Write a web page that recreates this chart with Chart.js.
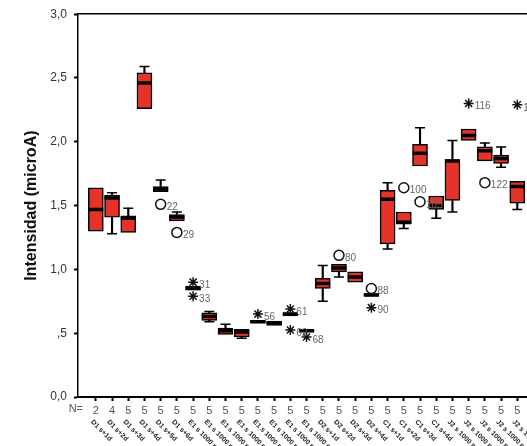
<!DOCTYPE html>
<html>
<head>
<meta charset="utf-8">
<script src="https://cdn.jsdelivr.net/npm/chart.js@4.4.1/dist/chart.umd.min.js"></script>
<style>
html,body{margin:0;padding:0;background:#fff;overflow:hidden}
#wrap{position:relative;width:527px;height:446px}
</style>
</head>
<body>
<div id="wrap"><canvas id="c" width="527" height="446"></canvas></div>
<script>
// Datos (boxplot SPSS)
var categorias = ['D1 s+1d','D1 s+2d','D1 s+3d','D1 s+4d','D1 s+5d','D1 s+6d',
    'E1 s 1000 mV 1','E1 s 1000 mV 2','E1 s 1000 mV 3','E1 s 1000 mV 4','E1 s 1000 mV 5','E1 s 1000 mV 6','E1 s 1000 mV 7','E1 s 1000 mV 8',
    'D2 s+1d','D2 s+2d','D2 s+3d','D2 s+4d',
    'C1 s+1d','C1 s+2d','C1 s+3d','C1 s+4d',
    'J2 s 1000 mV 1','J2 s 1000 mV 2','J2 s 1000 mV 3','J2 s 1000 mV 4','J2 s 1000 mV 5'];
var nCasos   = [2,4,5,5,5,5,5,5,5,5,5,5,5,5,5,5,5,5,5,5,5,5,5,5,5,5,5];
var minimos  = [1.30,1.28,1.29,2.26,1.61,1.38,0.84,0.59,0.49,0.46,0.58,0.56,0.635,0.51,0.75,0.94,0.90,0.79,1.16,1.32,1.81,1.40,1.45,2.01,1.85,1.80,1.47];
var q1       = [1.30,1.41,1.29,2.26,1.61,1.38,0.84,0.60,0.49,0.47,0.58,0.56,0.635,0.51,0.85,0.98,0.90,0.79,1.20,1.355,1.81,1.47,1.54,2.01,1.85,1.83,1.52];
var medianas = [1.47,1.56,1.40,2.46,1.63,1.41,0.85,0.63,0.52,0.51,0.59,0.58,0.65,0.52,0.89,1.01,0.94,0.80,1.55,1.37,1.91,1.50,1.85,2.05,1.93,1.87,1.65];
var q3       = [1.64,1.58,1.42,2.54,1.65,1.43,0.87,0.66,0.54,0.53,0.60,0.595,0.66,0.53,0.93,1.04,0.98,0.81,1.62,1.45,1.98,1.575,1.86,2.10,1.96,1.895,1.69];
var maximos  = [1.64,1.60,1.48,2.59,1.70,1.45,0.87,0.67,0.57,0.53,0.60,0.595,0.66,0.53,1.03,1.04,0.98,0.81,1.68,1.45,2.11,1.575,2.01,2.10,1.99,1.96,1.69];

// casos atipicos (O) y extremos (*)
var outCat  = [4,5,6,6,10,12,12,13,15,17,17,19,20,23,24,26];
var outVal  = [1.51,1.29,0.90,0.79,0.65,0.69,0.525,0.47,1.11,0.85,0.70,1.64,1.53,2.30,1.68,2.29];
var outLab  = ['22','29','31','33','56','61','62','68','80','88','90','100','105','116','122','127'];
var outTipo = ['o','o','*','*','*','*','*','*','o','o','*','o','o','*','o','*'];

var yTicks = [0,0.5,1,1.5,2,2.5,3];
var yTickLabels = ['0,0',',5','1,0','1,5','2,0','2,5','3,0'];

Chart.defaults.font.family = "'Liberation Sans', Arial, sans-serif";

var rojo = '#e5332a';
var cajas = [], meds = [], bigotes = [], topes = [];
for (var i = 0; i < categorias.length; i++) {
    cajas.push({x: i, y: [q1[i], q3[i]]});
    meds.push({x: i, y: medianas[i]});
    if (maximos[i] > q3[i]) { bigotes.push({x: i, y: [q3[i], maximos[i]]}); topes.push({x: i, y: maximos[i]}); }
    if (minimos[i] < q1[i]) { bigotes.push({x: i, y: [minimos[i], q1[i]]}); topes.push({x: i, y: minimos[i]}); }
}
var circulos = [], estrellas = [];
for (var k = 0; k < outCat.length; k++) {
    var p = {x: outCat[k], y: outVal[k], lab: outLab[k]};
    if (outTipo[k] === 'o') circulos.push(p); else estrellas.push(p);
}

function sinPadding(s) { s.paddingLeft = 0; s.paddingRight = 0; }

var etiquetasPlugin = {
    id: 'etiquetas',
    afterDatasetsDraw: function(chart) {
        var ctx = chart.ctx;
        ctx.save();
        ctx.font = "10px 'Liberation Sans', Arial, sans-serif";
        ctx.fillStyle = '#666';
        ctx.textBaseline = 'middle';
        chart.data.datasets.forEach(function(ds, di) {
            if (!ds.conEtiqueta) return;
            var meta = chart.getDatasetMeta(di);
            meta.data.forEach(function(el, j) {
                ctx.fillText(ds.data[j].lab, el.x + 6, el.y + 3);
            });
        });
        ctx.restore();
    },
    afterDraw: function(chart) {
        var ctx = chart.ctx, xs = chart.scales.x;
        ctx.save();
        ctx.fillStyle = '#555';
        ctx.font = "11px 'Liberation Sans', Arial, sans-serif";
        ctx.textAlign = 'right';
        ctx.textBaseline = 'middle';
        ctx.fillText('N=', chart.chartArea.left + 5, xs.top + 12);
        ctx.font = "bold 7px 'Liberation Sans', Arial, sans-serif";
        ctx.fillStyle = '#222';
        ctx.textAlign = 'left';
        for (var i = 0; i < categorias.length; i++) {
            var px = xs.getPixelForValue(i);
            ctx.save();
            ctx.translate(px - 4, xs.top + 24);
            ctx.rotate(Math.PI / 4);
            ctx.fillText(categorias[i], 0, 0);
            ctx.restore();
        }
        ctx.restore();
    }
};

new Chart(document.getElementById('c'), {
    type: 'bar',
    data: {
        datasets: [
            {type: 'scatter', data: circulos, conEtiqueta: true, order: 1, pointStyle: 'circle', pointRadius: 5, pointBorderWidth: 1.5, pointBorderColor: '#111', pointBackgroundColor: 'rgba(255,255,255,0)'},
            {type: 'scatter', data: estrellas, conEtiqueta: true, order: 1, pointStyle: 'star', pointRadius: 5, pointBorderWidth: 1.5, pointBorderColor: '#111'},
            {type: 'scatter', data: topes, order: 2, pointStyle: 'line', pointRadius: 5, pointBorderWidth: 1.5, pointBorderColor: '#000'},
            {type: 'scatter', data: meds, order: 3, pointStyle: 'line', pointRadius: 7.5, pointBorderWidth: 3.5, pointBorderColor: '#000'},
            {type: 'bar', data: cajas, order: 4, backgroundColor: rojo, borderColor: '#000', borderWidth: 1.5, borderSkipped: false, barThickness: 15, grouped: false},
            {type: 'bar', data: bigotes, order: 5, backgroundColor: '#000', borderWidth: 0, barThickness: 1.5, grouped: false}
        ]
    },
    options: {
        responsive: false,
        animation: false,
        devicePixelRatio: 1,
        layout: {autoPadding: false, padding: {top: 14, left: 0, right: 0, bottom: 0}},
        plugins: {legend: {display: false}, tooltip: {enabled: false}},
        scales: {
            x: {
                type: 'linear', position: 'bottom', min: -1.1, max: 26.6, offset: false,
                afterBuildTicks: function(s) { s.ticks = categorias.map(function(c, i) { return {value: i}; }); },
                afterFit: function(s) { s.height = 49; sinPadding(s); },
                ticks: {autoSkip: false, maxRotation: 0, padding: 3, color: '#555', font: {size: 11},
                    callback: function(v) { return String(nCasos[v]); }},
                grid: {offset: false, drawOnChartArea: false, drawTicks: true, tickLength: 4, tickWidth: 2, color: '#000'},
                border: {display: true, color: '#000', width: 2}
            },
            xTop: {
                type: 'linear', position: 'top', min: -1.1, max: 26.6, offset: false,
                afterFit: function(s) { s.height = 0; sinPadding(s); },
                ticks: {display: false},
                grid: {display: false},
                border: {display: true, color: '#000', width: 1.5}
            },
            y: {
                position: 'left', min: 0, max: 3,
                afterBuildTicks: function(s) { s.ticks = yTicks.map(function(v) { return {value: v}; }); },
                afterFit: function(s) { s.width = 78; },
                ticks: {color: '#333', font: {size: 12}, padding: 7,
                    callback: function(v, i) { return yTickLabels[i]; }},
                grid: {drawOnChartArea: false, drawTicks: true, tickLength: 4, tickWidth: 2, color: '#000'},
                border: {display: true, color: '#000', width: 1.5},
                title: {display: true, text: 'Intensidad (microA)', color: '#111', font: {size: 16, weight: 'bold'}, padding: {top: 22, bottom: 0}}
            }
        }
    },
    plugins: [etiquetasPlugin]
});
</script>
</body>
</html>
